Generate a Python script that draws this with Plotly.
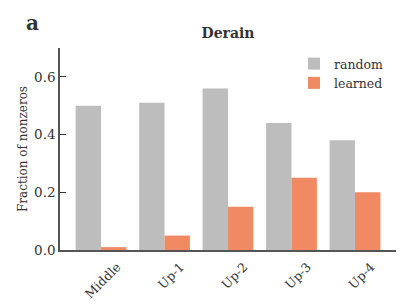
import plotly.graph_objects as go

categories = ["Middle", "Up-1", "Up-2", "Up-3", "Up-4"]
random_vals = [0.50, 0.51, 0.56, 0.44, 0.38]
learned_vals = [0.01, 0.05, 0.15, 0.25, 0.20]

FONT = "DejaVu Serif"
AX = "#555555"

fig = go.Figure()
fig.add_trace(go.Bar(x=categories, y=random_vals, name="random",
                     marker=dict(color="#bdbdbd", line=dict(width=0))))
fig.add_trace(go.Bar(x=categories, y=learned_vals, name="learned",
                     marker=dict(color="#ef8a62", line=dict(width=0))))

# page has an 8px body margin -> figure sized 400x299
W, H = 400, 299
L, R, T, B = 52, 12, 40, 57
PW, PH = W - L - R, H - T - B

fig.update_layout(
    width=W, height=H,
    margin=dict(l=L, r=R, t=T, b=B, autoexpand=False),
    paper_bgcolor="white", plot_bgcolor="white",
    font=dict(family=FONT, color="#333", size=13),
    barmode="group", bargap=0.2, bargroupgap=0,
    showlegend=True,
    legend=dict(x=(294 - 8 - L) / PW, y=(T + PH - (49 - 8)) / PH, xanchor="left", yanchor="top",
                font=dict(size=12.5, family=FONT, color="#333"), bgcolor="rgba(0,0,0,0)",
                tracegroupgap=0),
    title=dict(text="<b>Derain</b>", x=0.5, xref="paper", xanchor="center",
               y=1 - 25.5 / H, yanchor="middle",
               font=dict(size=14, family=FONT, color="#333")),
    annotations=[dict(text="<b>a</b>", x=(24 - L) / PW, y=(T + PH - 14.5) / PH,
                      xref="paper", yref="paper", xanchor="center", yanchor="middle",
                      showarrow=False, font=dict(size=20, family=FONT, color="#333"))],
)

fig.update_xaxes(
    type="category", range=[-0.646, 4.646], automargin=False,
    showline=True, linecolor=AX, linewidth=1.5,
    ticks="", tickangle=-45, tickfont=dict(size=12.5, family=FONT, color="#333"),
    ticklabelshift=16, ticklabelstandoff=3,
    showgrid=False, zeroline=False,
)
fig.update_yaxes(
    range=[0, 0.7], tickvals=[0, 0.2, 0.4, 0.6], ticktext=["0.0", "0.2", "0.4", "0.6"],
    automargin=False,
    showline=True, linecolor=AX, linewidth=1.5,
    ticks="inside", ticklen=6, tickcolor="#333", tickwidth=1.4,
    tickfont=dict(size=13.5, family=FONT, color="#333"),
    showgrid=False, zeroline=False,
    title=dict(text="Fraction of nonzeros", font=dict(size=12, family=FONT, color="#333"), standoff=4),
)

fig.write_html("out.html")
